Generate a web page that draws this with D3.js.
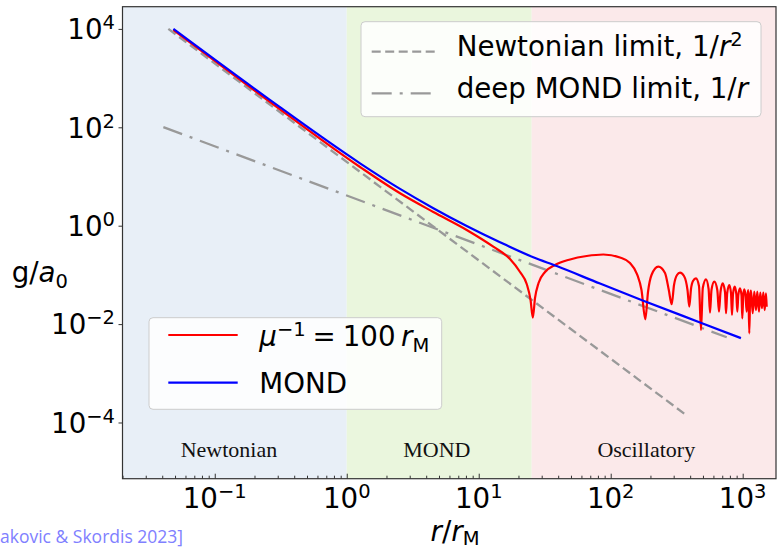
<!DOCTYPE html>
<html>
<head>
<meta charset="utf-8">
<script src="https://cdn.jsdelivr.net/npm/d3@7"></script>
<style>
body { margin: 0; background: #fff; }
svg text { font-family: "DejaVu Sans", sans-serif; fill: #000; }
</style>
</head>
<body>
<div id="chart"></div>
<script>
const width = 777, height = 552;

// regions along r / r_M
const regionNames = ["Newtonian", "MOND", "Oscillatory"];
const regionEdges = [0.02, 1, 25.2, 1788];
const regionColors = ["#e8eff7", "#eaf6dd", "#fbe9ea"];
const regionLabelR = [0.128, 4.82, 186];

// limit lines
const newtonR = [0.0445, 377];
const newtonG = [10000, 0.0001387];
const deepR = [0.0408, 757];
const deepG = [101, 0.0054];

// MOND (blue)
const mondR = [0.0486, 0.2477, 1.261, 2.535, 4.53, 8.11, 14.5, 25.9, 39.0, 83.0, 176.6, 475, 970];
const mondG = [9960, 401, 18.55, 5.60, 2.27, 0.986, 0.460, 0.228, 0.151, 0.0666, 0.0299, 0.0108, 0.00519];

// mu^-1 = 100 r_M (red)
const muR = [0.0486, 0.2477, 1.261, 2.535, 4.53, 8.11, 12.9, 17.26, 20.56, 23.1, 24.7, 25.7, 26.7, 28.4,
  31.8, 37.8, 49.2, 65.8, 87.9, 117.6, 140.0, 158.2, 171.1, 182.9,
  191.7, 203.8, 229.4, 257.9, 275.5, 289.8, 301.8, 317.9, 335.0, 359.2, 381.8, 393.9,
  405.8, 420.2, 442.7, 466.6, 483.2, 498.6, 527.2, 551.7, 565.3, 580.2, 609.3, 642.1, 661.4,
  678.9, 705.5, 734.5, 747.5, 763.3, 791.7, 815.5, 829.8, 844.5, 869.9, 894.5, 910.3,
  926.4, 953.9, 979.3, 993.1, 1010, 1028, 1050, 1072, 1087, 1103, 1122, 1140, 1156, 1191,
  1224, 1261, 1290, 1329, 1359, 1400, 1433, 1468, 1502, 1520];
const muG = [9500, 367, 15.6, 4.56, 1.90, 0.818, 0.374, 0.210, 0.1146, 0.0653, 0.0309, 0.0136, 0.0339, 0.0684,
  0.1146, 0.159, 0.206, 0.242, 0.260, 0.226, 0.1746, 0.1042, 0.0493, 0.0125,
  0.0449, 0.0995, 0.1468, 0.1093, 0.0493, 0.0253, 0.0623, 0.0995, 0.1108, 0.0950, 0.0493, 0.0226,
  0.0517, 0.0752, 0.0853, 0.0595, 0.00759, 0.0542, 0.0814, 0.0517, 0.0171, 0.0493, 0.0727, 0.0493, 0.0179,
  0.0449, 0.0675, 0.0449, 0.0166, 0.0429, 0.0623, 0.0429, 0.0153, 0.0409, 0.0576, 0.0409, 0.0179,
  0.0390, 0.0534, 0.0390, 0.0131, 0.0390, 0.0510, 0.0390, 0.0179, 0.0390, 0.0493, 0.0065, 0.0390, 0.0477, 0.0166,
  0.0456, 0.0193, 0.0456, 0.0179, 0.0435, 0.0210, 0.0435, 0.0193, 0.0423, 0.0226];

const xMajor = [0.1, 1, 10, 100, 1000];
const yMajor = [1e-4, 1e-2, 1, 1e2, 1e4];

const svg = d3.select("#chart").append("svg")
  .attr("width", width)
  .attr("height", height);

const plotLeft = 122.5, plotRight = 776, plotTop = 6.7, plotBottom = 478.7;
const fs = "27.7px", fsSmall = "19.5px";

const x = d3.scaleLog().domain([0.02, 1788]).range([plotLeft, plotRight]);
const y = d3.scaleLog().domain([Math.pow(10, -5.1423), Math.pow(10, 4.4512)]).range([plotBottom, plotTop]);

svg.append("clipPath").attr("id", "plot")
  .append("rect")
  .attr("x", plotLeft).attr("y", plotTop)
  .attr("width", plotRight - plotLeft).attr("height", plotBottom - plotTop);

// background bands
svg.append("g").selectAll("rect")
  .data(regionNames)
  .enter()
  .append("rect")
  .attr("x", (d, i) => x(regionEdges[i]))
  .attr("y", plotTop)
  .attr("width", (d, i) => x(regionEdges[i + 1]) - x(regionEdges[i]))
  .attr("height", plotBottom - plotTop)
  .attr("fill", (d, i) => regionColors[i]);

svg.append("g").selectAll("text")
  .data(regionNames)
  .enter()
  .append("text")
  .attr("x", (d, i) => x(regionLabelR[i]))
  .attr("y", 456.7)
  .attr("text-anchor", "middle")
  .style("font-family", "'Liberation Serif', serif")
  .style("font-size", "22px")
  .style("fill", "#111")
  .text(d => d);

const line = d3.line().x(d => x(d[0])).y(d => y(d[1]));
const smooth = d3.line().x(d => x(d[0])).y(d => y(d[1])).curve(d3.curveMonotoneX);

const plot = svg.append("g").attr("clip-path", "url(#plot)");

plot.append("path")
  .attr("d", line(d3.zip(newtonR, newtonG)))
  .attr("fill", "none")
  .attr("stroke", "#999")
  .attr("stroke-width", 2.3)
  .attr("stroke-dasharray", "9,4.5");

plot.append("path")
  .attr("d", line(d3.zip(deepR, deepG)))
  .attr("fill", "none")
  .attr("stroke", "#999")
  .attr("stroke-width", 2.3)
  .attr("stroke-dasharray", "20,8,3,8");

plot.append("path")
  .attr("d", smooth(d3.zip(muR, muG)))
  .attr("fill", "none")
  .attr("stroke", "#ff0000")
  .attr("stroke-width", 2.2)
  .attr("stroke-linejoin", "round");

plot.append("path")
  .attr("d", smooth(d3.zip(mondR, mondG)))
  .attr("fill", "none")
  .attr("stroke", "#0000ff")
  .attr("stroke-width", 2.2);

// axes
const xMinor = [];
for (let e = -2; e <= 3; e++) {
  for (let m = 2; m <= 9; m++) {
    const v = m * Math.pow(10, e);
    if (v >= 0.02 && v <= 1788) xMinor.push(v);
  }
}

svg.append("g")
  .attr("transform", `translate(0,${plotBottom})`)
  .call(d3.axisBottom(x).tickValues(xMinor).tickSize(-3).tickSizeOuter(0).tickFormat(""))
  .call(g => g.select(".domain").remove())
  .call(g => g.selectAll(".tick line").attr("stroke", "#333"));

svg.append("g")
  .attr("transform", `translate(0,${plotBottom})`)
  .call(d3.axisBottom(x).tickValues(xMajor).tickSize(-5).tickSizeOuter(0).tickFormat(""))
  .call(g => g.select(".domain").remove())
  .call(g => g.selectAll(".tick line").attr("stroke", "#333"));

svg.append("g")
  .attr("transform", `translate(${plotLeft},0)`)
  .call(d3.axisLeft(y).tickValues(yMajor).tickSize(4).tickSizeOuter(0).tickFormat(""))
  .call(g => g.select(".domain").remove())
  .call(g => g.selectAll(".tick line").attr("stroke", "#333"));

svg.append("rect")
  .attr("x", plotLeft).attr("y", plotTop)
  .attr("width", plotRight - plotLeft).attr("height", plotBottom - plotTop)
  .attr("fill", "none")
  .attr("stroke", "#333")
  .attr("stroke-width", 1.2);

function powLabel(t, v) {
  const e = Math.round(Math.log10(v));
  t.append("tspan").text("10");
  t.append("tspan").attr("dy", -10).style("font-size", fsSmall).text(e < 0 ? "\u2212" + (-e) : String(e));
}

svg.append("g").selectAll("text")
  .data(xMajor)
  .enter()
  .append("text")
  .attr("x", d => x(d))
  .attr("y", plotBottom + 29)
  .attr("text-anchor", "middle")
  .style("font-size", fs)
  .each(function (d) { powLabel(d3.select(this), d); });

svg.append("g").selectAll("text")
  .data(yMajor)
  .enter()
  .append("text")
  .attr("x", 115)
  .attr("y", d => y(d) + 10.3)
  .attr("text-anchor", "end")
  .style("font-size", fs)
  .each(function (d) { powLabel(d3.select(this), d); });

// axis labels
const yl = svg.append("text").attr("x", 68).attr("y", 282).attr("text-anchor", "end").style("font-size", fs);
yl.append("tspan").text("g/");
yl.append("tspan").style("font-style", "italic").text("a");
yl.append("tspan").attr("dy", 6).style("font-size", fsSmall).text("0");

const xl = svg.append("text").attr("x", 455).attr("y", 541).attr("text-anchor", "middle").style("font-size", fs);
xl.append("tspan").style("font-style", "italic").text("r");
xl.append("tspan").text("/");
xl.append("tspan").style("font-style", "italic").text("r");
xl.append("tspan").attr("dy", 4).style("font-size", fsSmall).text("M");

// legend: limits
svg.append("rect")
  .attr("x", 361).attr("y", 21.7).attr("width", 400).attr("height", 95)
  .attr("rx", 4)
  .attr("fill", "#fff").attr("fill-opacity", 0.85)
  .attr("stroke", "#ccc");

svg.append("line")
  .attr("x1", 371.7).attr("x2", 436.7).attr("y1", 51.7).attr("y2", 51.7)
  .attr("stroke", "#999").attr("stroke-width", 2.3).attr("stroke-dasharray", "9,4.5");
svg.append("line")
  .attr("x1", 371.7).attr("x2", 436.7).attr("y1", 93.3).attr("y2", 93.3)
  .attr("stroke", "#999").attr("stroke-width", 2.3).attr("stroke-dasharray", "20,8,3,8");

const l1 = svg.append("text").attr("x", 456.7).attr("y", 56).style("font-size", fs);
l1.append("tspan").text("Newtonian limit, 1/");
l1.append("tspan").style("font-style", "italic").text("r");
l1.append("tspan").attr("dy", -10).style("font-size", fsSmall).text("2");

const l2 = svg.append("text").attr("x", 456.7).attr("y", 97.7).style("font-size", fs);
l2.append("tspan").text("deep MOND limit, 1/");
l2.append("tspan").style("font-style", "italic").text("r");

// legend: curves
svg.append("rect")
  .attr("x", 149).attr("y", 317.7).attr("width", 292.7).attr("height", 91.6)
  .attr("rx", 4)
  .attr("fill", "#fff").attr("fill-opacity", 0.85)
  .attr("stroke", "#ccc");

svg.append("line")
  .attr("x1", 168.3).attr("x2", 237.7).attr("y1", 335).attr("y2", 335)
  .attr("stroke", "#ff0000").attr("stroke-width", 2.2);
svg.append("line")
  .attr("x1", 168.3).attr("x2", 237.7).attr("y1", 382.7).attr("y2", 382.7)
  .attr("stroke", "#0000ff").attr("stroke-width", 2.2);

const l3 = svg.append("text").attr("x", 259.3).attr("y", 345.6).style("font-size", fs);
l3.append("tspan").style("font-style", "italic").text("\u03bc");
l3.append("tspan").attr("dy", -10).style("font-size", fsSmall).text("\u22121");
l3.append("tspan").attr("dy", 10).text("\u2005=\u2005100\u2009");
l3.append("tspan").style("font-style", "italic").text("r");
l3.append("tspan").attr("dy", 6).style("font-size", fsSmall).text("M");

svg.append("text").attr("x", 259.3).attr("y", 393.3).style("font-size", fs).text("MOND");

// citation (cut at the left edge)
svg.append("text")
  .attr("x", 0).attr("y", 543)
  .style("font-family", "'Open Sans', sans-serif")
  .style("font-size", "17.5px")
  .style("fill", "#8080ff")
  .text("akovic & Skordis 2023]");
</script>
</body>
</html>
